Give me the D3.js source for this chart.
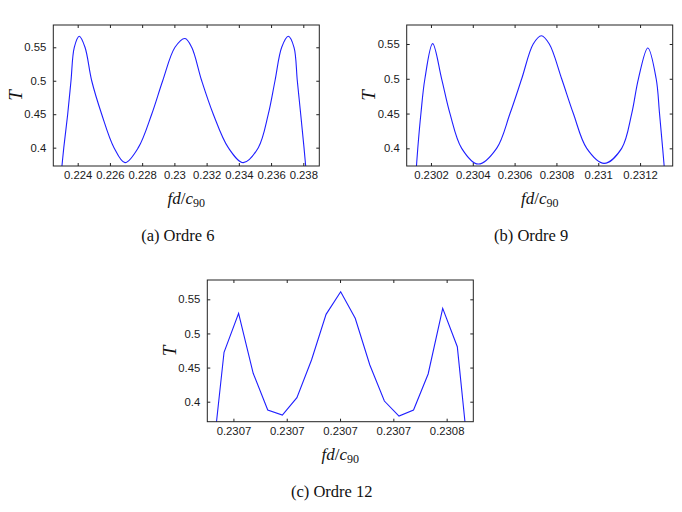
<!DOCTYPE html>
<html>
<head>
<meta charset="utf-8">
<script src="https://cdn.jsdelivr.net/npm/d3@7"></script>
<style>
  html, body { margin: 0; padding: 0; background: #fff; }
  svg { display: block; }
</style>
</head>
<body>
<svg id="chart" width="682" height="512"></svg>
<script>
// ---------- data ----------
// Panel (a) Ordre 6
const xA = [0.222933, 0.223137, 0.223379, 0.223584, 0.223789, 0.224099, 0.224453, 0.224869, 0.225489, 0.226253,
            0.226935, 0.227761, 0.228592, 0.229275, 0.230038, 0.230659, 0.231075, 0.231695, 0.232415, 0.233346,
            0.234277, 0.235208, 0.235828, 0.236244, 0.236660, 0.237069, 0.237423, 0.237628, 0.237839, 0.238044, 0.238230];
const tA = [0.35, 0.40, 0.45, 0.50, 0.55, 0.5664, 0.55, 0.50, 0.45, 0.40,
            0.3776, 0.40, 0.45, 0.50, 0.55, 0.5632, 0.55, 0.50, 0.45, 0.40,
            0.3776, 0.40, 0.45, 0.50, 0.55, 0.5664, 0.55, 0.50, 0.45, 0.40, 0.35];
const xTicksA = [0.224, 0.226, 0.228, 0.230, 0.232, 0.234, 0.236, 0.238];
const xTickLabelsA = ["0.224", "0.226", "0.228", "0.23", "0.232", "0.234", "0.236", "0.238"];
const xDomainA = [0.222486, 0.238993];
const yDomainA = [0.3726, 0.5833];

// Panel (b) Ordre 9
const xB = [0.230125, 0.230137, 0.230152, 0.230171, 0.230208, 0.230251, 0.230291, 0.230347, 0.230426,
            0.230514, 0.230578, 0.230634, 0.230689, 0.230728, 0.230766, 0.230825, 0.230881, 0.230945,
            0.231028, 0.231112, 0.231160, 0.231192, 0.231237, 0.231277, 0.231293, 0.231308, 0.231322];
const tB = [0.35, 0.40, 0.45, 0.50, 0.5505, 0.50, 0.45, 0.40, 0.3774,
            0.40, 0.45, 0.50, 0.55, 0.5619, 0.55, 0.50, 0.45, 0.40,
            0.3784, 0.40, 0.45, 0.50, 0.5443, 0.50, 0.45, 0.40, 0.35];
const xTicksB = [0.2302, 0.2304, 0.2306, 0.2308, 0.2310, 0.2312];
const xTickLabelsB = ["0.2302", "0.2304", "0.2306", "0.2308", "0.231", "0.2312"];
const xDomainB = [0.230084, 0.231356];
const yDomainB = [0.3746, 0.5773];

// Panel (c) Ordre 12
const xC = [0.2307055, 0.23070824, 0.23071097, 0.23071371, 0.23071644, 0.23071918, 0.23072191, 0.23072465,
            0.23072738, 0.23073012, 0.23073285, 0.23073559, 0.23073832, 0.23074106, 0.23074379, 0.23074653,
            0.23074926, 0.23075200, 0.23075473];
const tC = [0.275, 0.4724, 0.5295, 0.4416, 0.3878, 0.3805, 0.4059, 0.4611,
            0.528, 0.5611, 0.5222, 0.4538, 0.401, 0.379, 0.3878, 0.4406,
            0.5368, 0.4806, 0.271];
const xTicksC = [0.23071, 0.23072, 0.23073, 0.23074, 0.23075];
const xTickLabelsC = ["0.2307", "0.2307", "0.2307", "0.2307", "0.2308"];
const xDomainC = [0.2307051, 0.2307550];
const yDomainC = [0.3707, 0.5783];

const yTicks = [0.40, 0.45, 0.50, 0.55];
const yTickLabels = ["0.4", "0.45", "0.5", "0.55"];

const captions = ["(a) Ordre 6", "(b) Ordre 9", "(c) Ordre 12"];

// ---------- drawing ----------
const svg = d3.select("#chart");

function panel(id, box, xs, ts, xDomain, yDomain, xTicks, xLabels, caption, smooth) {
  const x = d3.scaleLinear().domain(xDomain).range([box.l, box.r]);
  const y = d3.scaleLinear().domain(yDomain).range([box.b, box.t]);
  const g = svg.append("g");

  g.append("clipPath").attr("id", "clip" + id)
    .append("rect").attr("x", box.l).attr("y", box.t)
    .attr("width", box.r - box.l).attr("height", box.b - box.t);

  const pts = xs.map((v, i) => [v, ts[i]]);
  const line = d3.line().x(d => x(d[0])).y(d => y(d[1]))
    .curve(smooth ? d3.curveCatmullRom.alpha(0.5) : d3.curveLinear);
  g.append("path").datum(pts)
    .attr("clip-path", "url(#clip" + id + ")")
    .attr("d", line)
    .attr("fill", "none")
    .attr("stroke", "#1f1fff")
    .attr("stroke-width", 1.1);

  const tickFont = (sel) => sel.selectAll("text")
    .attr("font-family", "'Liberation Sans', Arial, sans-serif")
    .attr("font-size", 11.3)
    .attr("fill", "#1a1a1a");

  const xAxis = d3.axisBottom(x).tickValues(xTicks).tickFormat((d, i) => xLabels[i])
    .tickSizeInner(-3).tickSizeOuter(0).tickPadding(5);
  const xa = g.append("g").attr("transform", `translate(0,${box.b})`).call(xAxis);
  xa.select(".domain").remove();
  tickFont(xa);

  const xAxisTop = d3.axisTop(x).tickValues(xTicks).tickFormat("").tickSizeInner(-3).tickSizeOuter(0);
  const xt = g.append("g").attr("transform", `translate(0,${box.t})`).call(xAxisTop);
  xt.select(".domain").remove();

  const yAxis = d3.axisLeft(y).tickValues(yTicks).tickFormat((d, i) => yTickLabels[i])
    .tickSizeInner(-3).tickSizeOuter(0).tickPadding(7);
  const ya = g.append("g").attr("transform", `translate(${box.l},0)`).call(yAxis);
  ya.select(".domain").remove();
  tickFont(ya);

  const yAxisRight = d3.axisRight(y).tickValues(yTicks).tickFormat("").tickSizeInner(-3).tickSizeOuter(0);
  const yr = g.append("g").attr("transform", `translate(${box.r},0)`).call(yAxisRight);
  yr.select(".domain").remove();

  g.selectAll(".tick line").attr("stroke", "#222").attr("stroke-width", 1);

  g.append("rect").attr("x", box.l).attr("y", box.t)
    .attr("width", box.r - box.l).attr("height", box.b - box.t)
    .attr("fill", "none").attr("stroke", "#222").attr("stroke-width", 1);

  // y label T
  const cy = (box.t + box.b) / 2;
  g.append("text")
    .attr("transform", `translate(${box.l - 38},${cy}) rotate(-90)`)
    .attr("text-anchor", "middle").attr("dy", "0.35em")
    .attr("font-family", "'Liberation Serif', 'DejaVu Serif', serif")
    .attr("font-style", "italic").attr("font-size", 19)
    .attr("fill", "#111")
    .text("T");

  // x label fd/c90
  const cx = (box.l + box.r) / 2;
  const xl = g.append("text")
    .attr("x", cx).attr("y", box.b + 38)
    .attr("text-anchor", "middle")
    .attr("font-family", "'Liberation Serif', 'DejaVu Serif', serif")
    .attr("font-size", 17).attr("fill", "#111");
  xl.append("tspan").attr("font-style", "italic").text("fd");
  xl.append("tspan").text("/");
  xl.append("tspan").attr("font-style", "italic").text("c");
  xl.append("tspan").attr("font-size", 12).attr("dy", 3).text("90");

  // caption
  g.append("text")
    .attr("x", cx - 8.5).attr("y", box.b + 75)
    .attr("text-anchor", "middle")
    .attr("font-family", "'Liberation Serif', 'DejaVu Serif', serif")
    .attr("font-size", 16.5).attr("fill", "#111")
    .text(caption);
}

panel("a", {l: 53.3, r: 319.3, t: 25, b: 166}, xA, tA, xDomainA, yDomainA, xTicksA, xTickLabelsA, captions[0], true);
panel("b", {l: 406.7, r: 672.7, t: 25, b: 166}, xB, tB, xDomainB, yDomainB, xTicksB, xTickLabelsB, captions[1], true);
panel("c", {l: 207.3, r: 473.3, t: 280, b: 421.7}, xC, tC, xDomainC, yDomainC, xTicksC, xTickLabelsC, captions[2], false);
</script>
</body>
</html>
